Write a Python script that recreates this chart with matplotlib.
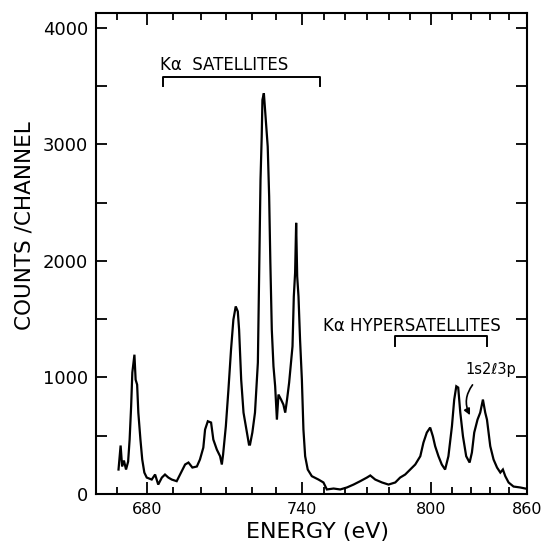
import numpy as np
import matplotlib
matplotlib.use("Agg")
import matplotlib.pyplot as plt
from matplotlib.scale import FuncScale

# ---- spectrum (energy in eV, counts/channel) ----
energy = [670.5, 671.2, 671.7, 672.3, 673.0, 673.7, 674.2, 674.7, 675.1, 675.8,
          676.2, 676.7, 677.1, 677.8, 678.4, 679.1, 679.9, 681.8, 683.1, 684.3,
          685.7, 686.9, 688.2, 689.5, 691.3, 692.5, 694.3, 695.5, 696.9, 698.5,
          699.6, 700.9, 701.6, 702.7, 704.0, 704.9, 706.3, 707.6, 708.3, 708.8,
          709.9, 710.9, 711.9, 712.8, 713.7, 714.5, 715.0, 715.8, 716.7, 718.0,
          718.8, 719.2, 720.1, 721.2, 722.4, 722.9, 723.5, 724.0, 724.3, 724.9,
          725.7, 726.5, 727.1, 727.6, 728.2, 728.9, 729.6, 730.3, 730.9, 731.9,
          732.8, 733.5, 734.2, 735.0, 736.3, 736.8, 737.3, 737.7, 738.1, 738.6,
          739.2, 739.9, 740.6, 741.4, 742.6, 744.5, 747.6, 749.9, 751.5, 754.6,
          757.7, 760.8, 763.9, 767.0, 770.1, 771.6, 773.8, 776.8, 779.7, 782.9,
          785.2, 787.6, 790.0, 792.4, 794.8, 796.3, 797.9, 799.5, 800.8, 801.9,
          803.5, 805.1, 806.7, 808.3, 810.0, 811.2, 812.3, 813.3, 814.4, 815.8,
          817.5, 819.3, 820.5, 821.7, 823.4, 824.8, 826.2, 827.4, 828.3, 830.0,
          831.8, 833.7, 835.5, 836.9, 838.2, 840.0, 845.4, 852.7, 858.2]
counts = [210, 416, 236, 287, 210, 278, 467, 750, 1041, 1195,
          981, 938, 698, 467, 296, 184, 141, 124, 167, 81,
          141, 167, 141, 124, 110, 167, 253, 270, 227, 236,
          296, 398, 553, 624, 613, 467, 381, 324, 253, 338,
          581, 895, 1238, 1495, 1609, 1566, 1410, 981, 698, 527,
          424, 424, 527, 698, 1127, 1838, 2695, 3066, 3381, 3438,
          3209, 2980, 2552, 1984, 1410, 1095, 924, 638, 853, 810,
          767, 698, 810, 955, 1267, 1695, 1898, 2326, 1866, 1695,
          1324, 981, 553, 324, 210, 153, 124, 99, 39, 47,
          39, 56, 81, 110, 141, 159, 124, 99, 81, 99,
          141, 167, 210, 253, 324, 441, 527, 570, 495, 410,
          324, 253, 210, 324, 581, 810, 924, 913, 698, 495,
          324, 270, 356, 527, 638, 698, 810, 698, 638, 410,
          296, 227, 184, 210, 153, 99, 64, 56, 47]

major_ev = [680, 740, 800, 860]
minor_ev = [670, 690, 700, 710, 720, 730, 750, 760, 770, 780, 790, 810, 820, 830, 840]
sat_range = (686.2, 748.4)
hyper_range = (782.9, 828.1)

# energy axis of the spectrometer is not linear: calibration read from the tick marks
cal_ev = np.array([500, 662.5, 670, 680, 690, 700, 710, 720, 730, 740, 750, 760,
                   770, 780, 790, 800, 810, 820, 830, 840, 860, 1200])
cal_pos = np.array([-359, 96, 117, 147, 173, 201, 226, 252, 276, 302, 323.5, 345,
                    366.5, 389, 410, 431, 451.7, 470.7, 490, 508.3, 526.7, 839])


def fwd(e):
    return np.interp(e, cal_ev, cal_pos)


def inv(p):
    return np.interp(p, cal_pos, cal_ev)


fig = plt.figure(figsize=(5.43, 5.44), dpi=100)
ax = fig.add_axes([0.1768, 0.0919, 0.7937, 0.8842])
ax.set_xscale(FuncScale(ax, (fwd, inv)))

ax.plot(energy, counts, color="black", lw=1.6, solid_joinstyle="miter")

ax.set_xlim(662.5, 860)
ax.set_ylim(0, 4126)
ax.set_xticks(major_ev)
ax.set_xticklabels([str(v) for v in major_ev])
ax.set_xticks(minor_ev, minor=True)
ax.set_yticks([0, 1000, 2000, 3000, 4000])
ax.set_yticks([500, 1500, 2500, 3500], minor=True)

for s in ax.spines.values():
    s.set_linewidth(1.5)
ax.tick_params(which="both", direction="in", top=True, right=True, width=1.3)
ax.tick_params(axis="x", which="major", length=8.5, labelsize=11.5, pad=6)
ax.tick_params(axis="x", which="minor", length=5)
ax.tick_params(axis="y", which="both", length=8, labelsize=13, pad=5.5)

ax.set_xlabel("ENERGY (eV)", fontsize=16)
ax.xaxis.set_label_coords(0.513, -0.058)
ax.set_ylabel("COUNTS /CHANNEL", fontsize=15.5)
ax.yaxis.set_label_coords(-0.142, 0.557)

# annotations
ax.text(685, 3638, "Kα  SATELLITES", fontsize=12, ha="left", va="baseline")
ax.plot([sat_range[0], sat_range[0], sat_range[1], sat_range[1]],
        [3500, 3578, 3578, 3500], color="black", lw=1.4)
ax.text(749.9, 1401, "Kα HYPERSATELLITES", fontsize=12, ha="left", va="baseline")
ax.plot([hyper_range[0], hyper_range[0], hyper_range[1], hyper_range[1]],
        [1272, 1358, 1358, 1272], color="black", lw=1.4)
ax.text(817, 1033, "1s2ℓ3p", fontsize=10.5, ha="left", va="baseline")
ax.annotate("", xy=(820.2, 655), xytext=(821.7, 955),
            arrowprops=dict(arrowstyle="-|>", color="black", lw=1.2,
                            mutation_scale=9,
                            connectionstyle="arc3,rad=0.35"))

fig.savefig("out.png", dpi=100)
